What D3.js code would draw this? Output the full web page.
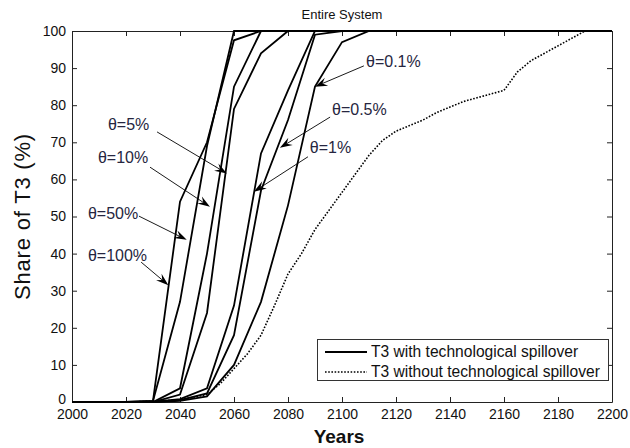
<!DOCTYPE html>
<html><head><meta charset="utf-8">
<script src="https://cdn.jsdelivr.net/npm/d3@7"></script>
<style>
body{margin:0;background:#fff}
text{font-family:"Liberation Sans",Arial,Helvetica,sans-serif}
</style>
</head><body>
<svg id="chart" width="630" height="448"></svg>
<script>
// ---- data ----
const years = [2000,2010,2020,2030,2040,2050,2060,2070,2080,2090,2100,2110,2120,2130,2140,2150,2160,2170,2180,2190,2200];
const theta100 = [0,0,0,0.3,54,70,97.5,100,100,100,100,100,100,100,100,100,100,100,100,100,100];
const theta50  = [0,0,0,0.3,27,69,100,100,100,100,100,100,100,100,100,100,100,100,100,100,100];
const theta10  = [0,0,0,0,3.7,40,85,100,100,100,100,100,100,100,100,100,100,100,100,100,100];
const theta5   = [0,0,0,0,2,24,79,94,100,100,100,100,100,100,100,100,100,100,100,100,100];
const theta1   = [0,0,0,0,0.8,3.7,26,67,84,100,100,100,100,100,100,100,100,100,100,100,100];
const theta05  = [0,0,0,0,0.5,2.3,18,57,76,99,100,100,100,100,100,100,100,100,100,100,100];
const theta01  = [0,0,0,0,0.3,1.5,10,27,53,85,97,100,100,100,100,100,100,100,100,100,100];

const noSpillYears = [2000,2010,2020,2030,2040,2050,2055,2060,2065,2070,2075,2080,2085,2090,2095,2100,2105,2110,2115,2120,2125,2130,2135,2140,2145,2150,2155,2160,2165,2170,2175,2180,2185,2190,2200];
const noSpill      = [0,0,0,0.2,0.6,2,5,9,13,18,26,34.5,40,46.5,51.5,56.5,61.5,66.5,70.5,73,74.5,76,78,79.5,81,82,83,84,89,92,94,96,98,100,100];

const xTicks = [2000,2020,2040,2060,2080,2100,2120,2140,2160,2180,2200];
const yTicks = [0,10,20,30,40,50,60,70,80,90,100];

const seriesNames = ["θ=100%","θ=50%","θ=10%","θ=5%","θ=1%","θ=0.5%","θ=0.1%"];
const seriesValues = [theta100,theta50,theta10,theta5,theta1,theta05,theta01];

// annotation anchors in data units: [label, textYear, textValue, tailYear, tailValue, tipYear, tipValue]
const annotations = [
  ["θ=100%", 2005.9, 39.6, 2025.6, 37.7, 2035.7, 31.5],
  ["θ=50%",  2005.9, 50.9, 2024.8, 50.1, 2042.5, 43.7],
  ["θ=10%",  2009.6, 65.8, 2028.9, 63.3, 2051.1, 52.6],
  ["θ=5%",   2013.3, 74.9, 2031.5, 72.8, 2057.4, 61.6],
  ["θ=1%",   2088.1, 68.7, 2087.4, 66.1, 2067.4, 56.7],
  ["θ=0.5%", 2096.3, 79.0, 2095.6, 76.8, 2077.0, 68.5],
  ["θ=0.1%", 2108.9, 91.9, 2108.1, 90.6, 2090.0, 85.0]
];
const legendLabels = ["T3 with technological spillover","T3 without technological spillover"];

// ---- layout ----
const W = 630, H = 448;
const m = {left:72, top:31, right:18, bottom:46};
const svg = d3.select("#chart");
const x = d3.scaleLinear().domain([2000,2200]).range([m.left, W - m.right]);
const y = d3.scaleLinear().domain([0,100]).range([H - m.bottom, m.top]);

svg.append("rect").attr("x",0).attr("y",0).attr("width",W).attr("height",H).attr("fill","#fff");

const axisColor = "#222";
const tickFont = 14;

function styleAxis(g){
  g.select(".domain").attr("stroke",axisColor).attr("stroke-width",1);
  g.selectAll(".tick line").attr("stroke",axisColor);
  g.selectAll(".tick text").attr("fill","#111").attr("font-size",tickFont)
    .attr("font-family",'"Liberation Sans",Arial,sans-serif');
}

svg.append("g").attr("transform",`translate(0,${y(0)})`)
  .call(d3.axisBottom(x).tickValues(xTicks).tickFormat(d3.format("d")).tickSize(-5).tickSizeOuter(0).tickPadding(7))
  .call(styleAxis);
svg.append("g").attr("transform",`translate(${x(2000)},0)`)
  .call(d3.axisLeft(y).tickValues(yTicks).tickSize(-5).tickSizeOuter(0).tickPadding(6))
  .call(styleAxis)
  .call(g => g.selectAll(".tick").filter(d => d === 0).select("text").attr("dy","0.1em"));
svg.append("g").attr("transform",`translate(0,${y(100)})`)
  .call(d3.axisTop(x).tickValues(xTicks).tickFormat("").tickSize(-5).tickSizeOuter(0))
  .call(styleAxis);
svg.append("g").attr("transform",`translate(${x(2200)},0)`)
  .call(d3.axisRight(y).tickValues(yTicks).tickFormat("").tickSize(-5).tickSizeOuter(0))
  .call(styleAxis);

// ---- lines ----
const line = d3.line().x(d => x(d[0])).y(d => y(d[1]));
svg.append("path")
  .datum(noSpillYears.map((yr,i)=>[yr,noSpill[i]]))
  .attr("d",line).attr("fill","none").attr("stroke","#000")
  .attr("stroke-width",1.6).attr("stroke-dasharray","1.6,1.6");

seriesValues.forEach((vals,k)=>{
  svg.append("path")
    .datum(years.map((yr,i)=>[yr,vals[i]]))
    .attr("d",line).attr("fill","none").attr("stroke","#000")
    .attr("stroke-width",1.8).attr("stroke-linejoin","miter");
});

// ---- annotations ----
const annG = svg.append("g");
annotations.forEach(a=>{
  const [lab,tx,tv,ax0,av0,ax1,av1] = a;
  const x0=x(ax0), y0=y(av0), x1=x(ax1), y1=y(av1);
  const ang = Math.atan2(y1-y0, x1-x0);
  const L=12.5, Wd=8.5, notch=8;
  annG.append("line").attr("x1",x0).attr("y1",y0).attr("x2",x1 - Math.cos(ang)*notch).attr("y2",y1 - Math.sin(ang)*notch)
    .attr("stroke","#000").attr("stroke-width",0.9);
  const pts = [[0,0],[-L,-Wd/2],[-notch,0],[-L,Wd/2]];
  annG.append("path")
    .attr("d","M"+pts.map(p=>p.join(",")).join("L")+"Z")
    .attr("transform",`translate(${x1},${y1}) rotate(${ang*180/Math.PI})`)
    .attr("fill","#000");
  annG.append("text").attr("x",x(tx)).attr("y",y(tv)).attr("dy","0.35em")
    .attr("font-size",16).attr("fill","#262640").text(lab);
});

// ---- titles ----
svg.append("text").attr("x",(x(2000)+x(2200))/2).attr("y",19).attr("text-anchor","middle")
  .attr("font-size",13).attr("fill","#111").text("Entire System");
svg.append("text").attr("x",(x(2000)+x(2200))/2 - 3).attr("y",443).attr("text-anchor","middle")
  .attr("font-size",19).attr("font-weight","bold").attr("fill","#111").text("Years");
svg.append("text").attr("transform",`translate(30,${(y(0)+y(100))/2}) rotate(-90)`).attr("text-anchor","middle")
  .attr("font-size",22).attr("letter-spacing","0.8").attr("fill","#111").text("Share of T3 (%)");

// ---- legend ----
const lg = svg.append("g");
lg.append("rect").attr("x",317.5).attr("y",339.5).attr("width",291).attr("height",41)
  .attr("fill","#fff").attr("stroke","#333").attr("stroke-width",1);
legendLabels.forEach((lab,i)=>{
  const yy = 352 + i*20;
  lg.append("line").attr("x1",325).attr("x2",367).attr("y1",yy).attr("y2",yy)
    .attr("stroke","#000").attr("stroke-width", i===0?2:1.6)
    .attr("stroke-dasharray", i===0?null:"1.6,1.6");
  lg.append("text").attr("x",371).attr("y",yy).attr("dy","0.35em").attr("font-size",15.6)
    .attr("fill","#111").text(lab);
});
</script>
</body></html>
